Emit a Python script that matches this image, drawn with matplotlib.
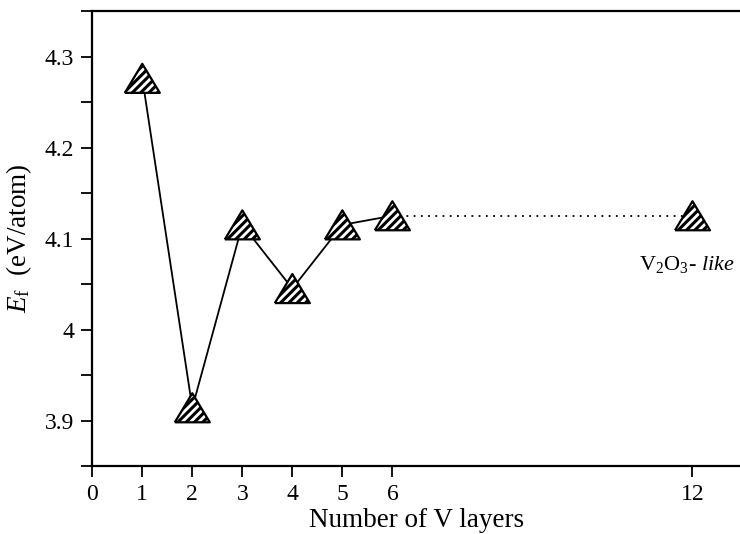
import matplotlib
matplotlib.use('Agg')
import matplotlib.pyplot as plt
from matplotlib.ticker import FixedLocator, MultipleLocator

plt.rcParams['font.family'] = ['Liberation Serif', 'DejaVu Serif']
plt.rcParams['mathtext.fontset'] = 'custom'
plt.rcParams['mathtext.rm'] = 'Liberation Serif'
plt.rcParams['mathtext.it'] = 'Liberation Serif:italic'
plt.rcParams['hatch.linewidth'] = 2.2

# formation energy vs number of V layers
layers = [1, 2, 3, 4, 5, 6]
energy = [4.276, 3.914, 4.115, 4.045, 4.115, 4.125]
bulk_layers = 12
bulk_energy = 4.125

xticks = [0, 1, 2, 3, 4, 5, 6, 12]
yticks = [3.9, 4.0, 4.1, 4.2, 4.3]
ytick_labels = ['3.9', '4', '4.1', '4.2', '4.3']

# squat triangle marker, slightly wider than tall
tri = [(-1, -0.83), (1, -0.83), (0, 0.83), (-1, -0.83)]

fig = plt.figure(figsize=(7.4, 5.34), dpi=100)
ax = fig.add_axes([0.1247, 0.1273, 0.8753, 0.8521])

ax.plot(layers, energy, color='black', lw=1.3, zorder=2)
ax.plot([layers[-1], bulk_layers], [energy[-1], bulk_energy],
        color='black', lw=1.3, ls=(0, (1, 3)), zorder=2)

ax.scatter(layers + [bulk_layers], energy + [bulk_energy], marker=tri, s=635,
           facecolor='white', edgecolor='black', linewidths=1.6,
           hatch='////', zorder=3)

ax.text(12.85, 4.071, r'V$_2$O$_3$- $\it{like}$', ha='right', va='center',
        fontsize=16)

ax.set_xlim(0, 12.95)
ax.set_ylim(3.85, 4.35)
ax.xaxis.set_major_locator(FixedLocator(xticks))
ax.set_xticklabels([str(t) for t in xticks])
ax.set_yticks(yticks)
ax.set_yticklabels(ytick_labels)
ax.yaxis.set_minor_locator(MultipleLocator(0.05))

ax.spines['right'].set_visible(False)
for side in ['left', 'bottom', 'top']:
    ax.spines[side].set_linewidth(1.6)

ax.tick_params(which='both', direction='out', length=8, width=1.3,
               labelsize=17, pad=5)

ax.set_xlabel('Number of V layers', fontsize=19.5, labelpad=2)
ax.set_ylabel(r'$E_{\mathrm{f}}$  (eV/atom)', fontsize=19.5, labelpad=8)

fig.savefig('out.png', dpi=100)
